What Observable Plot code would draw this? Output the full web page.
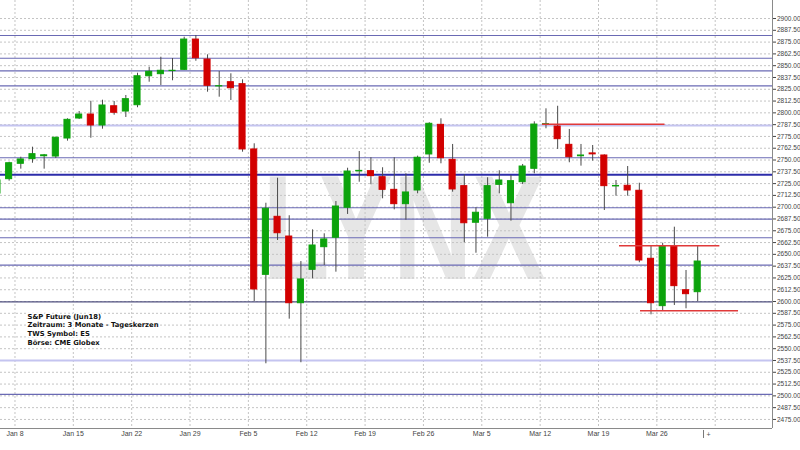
<!DOCTYPE html>
<html>
<head>
<meta charset="utf-8">
<script src="https://cdn.jsdelivr.net/npm/d3@7"></script>
<script src="https://cdn.jsdelivr.net/npm/@observablehq/plot@0.6"></script>
<style>
  html, body { margin: 0; padding: 0; background: #fff; }
  svg { font-family: "Liberation Sans", Arial, sans-serif; }
</style>
</head>
<body>
<div id="chart"></div>
<script>
// Trading-day index of the first candle (Jan 8 = 0)
const firstIndex = -2;
const open = [2714.5, 2729.7, 2746.0, 2750.9, 2754.0, 2753.7, 2772.8, 2794.0, 2798.2, 2786.6, 2807.0, 2801.4, 2808.1, 2838.8, 2841.0, 2844.3, 2845.6, 2877.7, 2856.5, 2828.0, 2832.5, 2830.4, 2761.2, 2628.3, 2689.8, 2668.9, 2598.2, 2633.6, 2657.6, 2667.6, 2699.4, 2738.0, 2738.2, 2731.8, 2718.4, 2703.2, 2717.7, 2755.9, 2787.3, 2750.2, 2722.3, 2683.5, 2687.7, 2723.7, 2704.2, 2726.5, 2740.7, 2787.6, 2785.5, 2766.1, 2754.0, 2757.0, 2754.8, 2722.0, 2722.7, 2717.4, 2645.3, 2595.1, 2658.3, 2612.0, 2609.9];
const high = [2730.4, 2747.7, 2753.0, 2763.6, 2755.9, 2774.2, 2793.7, 2801.4, 2812.3, 2813.4, 2812.0, 2818.4, 2842.0, 2848.4, 2859.0, 2857.6, 2880.2, 2882.0, 2861.5, 2843.8, 2841.4, 2835.0, 2767.2, 2704.2, 2730.7, 2690.9, 2642.4, 2676.0, 2671.8, 2706.0, 2741.3, 2759.0, 2752.4, 2741.8, 2752.4, 2735.4, 2754.1, 2789.5, 2793.7, 2766.5, 2734.3, 2699.4, 2731.2, 2738.6, 2733.6, 2745.3, 2790.5, 2804.3, 2807.0, 2782.4, 2766.5, 2765.4, 2755.5, 2728.3, 2743.1, 2725.4, 2658.3, 2661.8, 2678.8, 2632.9, 2658.3];
const low = [2712.4, 2727.6, 2740.3, 2746.6, 2740.3, 2751.6, 2770.0, 2793.0, 2773.1, 2782.7, 2797.5, 2795.1, 2805.4, 2832.5, 2829.0, 2834.0, 2844.9, 2854.7, 2821.9, 2816.6, 2813.1, 2758.3, 2600.0, 2534.0, 2664.7, 2581.3, 2535.1, 2624.1, 2638.2, 2631.1, 2692.3, 2726.5, 2723.7, 2708.9, 2697.2, 2686.2, 2714.2, 2746.6, 2746.0, 2715.9, 2662.3, 2651.2, 2668.2, 2714.2, 2685.2, 2724.1, 2735.4, 2783.1, 2761.2, 2747.1, 2743.5, 2748.8, 2696.5, 2711.7, 2711.7, 2641.1, 2585.9, 2590.5, 2595.8, 2592.3, 2600.0];
const close = [2728.3, 2746.6, 2750.6, 2756.2, 2755.0, 2773.6, 2792.6, 2798.2, 2786.6, 2807.8, 2800.1, 2814.5, 2838.8, 2843.5, 2844.6, 2844.6, 2877.7, 2857.9, 2828.7, 2828.3, 2826.1, 2761.2, 2612.8, 2698.3, 2672.4, 2598.2, 2623.4, 2659.4, 2665.8, 2700.7, 2737.8, 2738.5, 2732.9, 2718.4, 2703.2, 2715.6, 2752.4, 2788.4, 2751.9, 2718.8, 2683.0, 2694.1, 2722.3, 2728.3, 2727.6, 2743.1, 2787.6, 2788.0, 2772.1, 2753.0, 2754.8, 2756.0, 2722.3, 2722.5, 2717.7, 2643.5, 2598.2, 2658.3, 2616.3, 2607.8, 2642.4];

// Week labels (Mondays)
const weekLabels = ["Jan 8", "Jan 15", "Jan 22", "Jan 29", "Feb 5", "Feb 12", "Feb 19", "Feb 26", "Mar 5", "Mar 12", "Mar 19", "Mar 26"];
// Horizontal support / resistance levels
const blueLevels = [2882.0, 2857.9, 2844.6, 2828.7, 2752.4, 2699.4, 2687.3, 2667.6, 2638.5, 2501.5];
const darkLevels = [2734.3];
const greyBlueLevels = [2599.7];
const lightLevels = [2786.6, 2537.5];
// Red trend lines: level, start day index, end day index
const redLevel = [2788.0, 2659.1, 2590.2];
const redStart = [44.7, 51.3, 53.1];
const redEnd = [55.2, 59.9, 61.5];
const legendLines = ["S&P Future (Jun18)", "Zeitraum: 3 Monate - Tageskerzen", "TWS Symbol: ES", "Börse: CME Globex"];
const watermark = "LYNX";

const candles = open.map((o, k) => ({i: k + firstIndex, o, h: high[k], l: low[k], c: close[k]}));
const weekTicks = weekLabels.map((_, k) => -0.5 + 5 * k);
const labelMap = new Map(weekTicks.map((t, k) => [t, weekLabels[k]]));
const gridX = [...weekTicks, -0.5 + 5 * weekLabels.length];
const yTicks = d3.range(2475, 2900.01, 12.5);
const reds = redLevel.map((v, k) => ({v, a: redStart[k], b: redEnd[k]}));

const xDomain = [-1.74, 64.41];
const yDomain = [2465.4, 2919.1];
const green = "#0ca30c", red = "#d20000";

const chart = Plot.plot({
  width: 800,
  height: 450,
  marginTop: 0,
  marginLeft: 0,
  marginRight: 28,
  marginBottom: 22,
  x: {type: "linear", domain: xDomain, axis: null},
  y: {type: "linear", domain: yDomain, axis: null},
  style: {background: "#fff", fontFamily: "Liberation Sans, Arial, sans-serif"},
  marks: [
    Plot.text([watermark], {x: [32.84], y: [2624.4], text: d => d, fontSize: 148, fontWeight: "bold", fill: "#e6e6e6", textAnchor: "middle", lineAnchor: "bottom"}),
    Plot.ruleY(yTicks, {stroke: "#c4c4c4", strokeDasharray: "2,2"}),
    Plot.ruleX(gridX, {stroke: "#c4c4c4", strokeDasharray: "2,2"}),
    Plot.ruleY(lightLevels, {stroke: "#c4c4f0", strokeWidth: 2}),
    Plot.ruleY(blueLevels, {stroke: "#6a6ab4", strokeWidth: 1.2}),
    Plot.ruleY(greyBlueLevels, {stroke: "#505080", strokeWidth: 1.2}),
    Plot.ruleY(darkLevels, {stroke: "#2c2caa", strokeWidth: 2}),
    Plot.ruleX(candles, {x: "i", y1: "l", y2: "h", stroke: "#4a4a4a", strokeWidth: 1}),
    Plot.rect(candles, {filter: d => d.c >= d.o, x1: d => d.i - 0.26, x2: d => d.i + 0.26, y1: "o", y2: "c", fill: green, stroke: green, strokeWidth: 1}),
    Plot.rect(candles, {filter: d => d.c < d.o, x1: d => d.i - 0.26, x2: d => d.i + 0.26, y1: "o", y2: "c", fill: red, stroke: red, strokeWidth: 1}),
    Plot.ruleY(reds, {y: "v", x1: "a", x2: "b", stroke: "#e03a3a", strokeWidth: 1.5}),
    Plot.ruleX([xDomain[1]], {stroke: "#8a8a8a"}),
    Plot.ruleY([yDomain[0]], {stroke: "#8a8a8a"}),
    Plot.axisY(yTicks, {anchor: "right", tickSize: 3, tickPadding: 1.5, tickFormat: d => d.toFixed(2), fontSize: 6.5, color: "#444"}),
    Plot.axisX(weekTicks, {anchor: "bottom", tickSize: 0, tickPadding: 3, tickFormat: d => labelMap.get(d), fontSize: 7, color: "#444"}),
    Plot.ruleX([58.5], {y1: 2463.3, y2: 2454.8, stroke: "#777"}),
    Plot.text(["+"], {x: [58.5], y: [2459], text: d => d, dx: 3, fontSize: 7, fill: "#555", textAnchor: "start"}),
    Plot.text([legendLines.join("\n")], {frameAnchor: "top-left", dx: 27, dy: 312, text: d => d, fontFamily: "DejaVu Sans", fontSize: 6.8, fontWeight: "bold", lineHeight: 1.28, textAnchor: "start", lineAnchor: "top", fill: "#111", stroke: "#fff", strokeWidth: 3})
  ]
});

d3.select(chart).selectAll("text")
  .filter(function() { return this.textContent === watermark; })
  .attr("textLength", 283)
  .attr("lengthAdjust", "spacingAndGlyphs");

document.getElementById("chart").appendChild(chart);
</script>
</body>
</html>
